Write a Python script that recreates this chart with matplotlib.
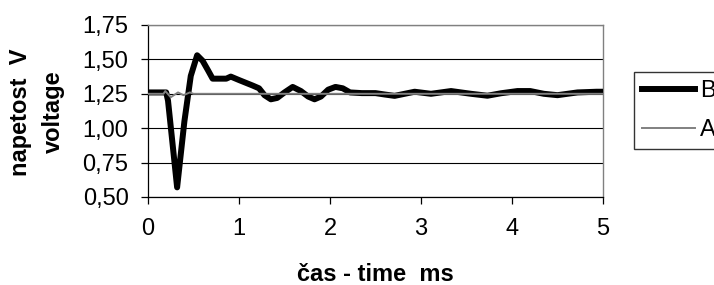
import matplotlib
matplotlib.use("Agg")
import matplotlib.pyplot as plt
from matplotlib.ticker import FuncFormatter

# Data
t_B = [0, 0.20, 0.22, 0.32, 0.40, 0.47, 0.54, 0.60, 0.66, 0.71, 0.80, 0.86, 0.91,
       1.00, 1.15, 1.22, 1.28, 1.35, 1.42, 1.50, 1.59, 1.68, 1.76, 1.83, 1.90,
       1.98, 2.06, 2.14, 2.22, 2.35, 2.50, 2.60, 2.71, 2.82, 2.93, 3.11, 3.33,
       3.55, 3.73, 3.88, 4.06, 4.20, 4.35, 4.50, 4.72, 4.93, 5.0]
v_B = [1.26, 1.26, 1.20, 0.57, 1.05, 1.38, 1.53, 1.49, 1.42, 1.36, 1.36, 1.36, 1.375,
       1.35, 1.31, 1.29, 1.24, 1.21, 1.22, 1.26, 1.30, 1.27, 1.23, 1.21, 1.23,
       1.28, 1.30, 1.29, 1.26, 1.255, 1.255, 1.245, 1.235, 1.25, 1.265, 1.25, 1.27,
       1.25, 1.236, 1.254, 1.27, 1.27, 1.25, 1.24, 1.26, 1.265, 1.265]

t_A = [0, 0.17, 0.19, 0.25, 0.33, 0.39, 0.46, 0.50, 5.0]
v_A = [1.25, 1.25, 1.27, 1.225, 1.26, 1.24, 1.26, 1.25, 1.25]

y_ticks = [0.50, 0.75, 1.00, 1.25, 1.50, 1.75]
x_ticks = [0, 1, 2, 3, 4, 5]

FS = 17
plt.rcParams['font.family'] = ['Liberation Sans', 'DejaVu Sans']

fig = plt.figure(figsize=(7.14, 2.85), dpi=100)
ax = fig.add_axes([148/714, 1 - 197/285, (603-148)/714, (197-25)/285])

ax.set_xlim(0, 5)
ax.set_ylim(0.5, 1.75)
ax.set_yticks(y_ticks)
ax.set_xticks(x_ticks)
ax.yaxis.set_major_formatter(FuncFormatter(lambda v, p: f"{v:.2f}".replace('.', ',')))
ax.grid(axis='y', color='black', linewidth=0.8)
ax.set_axisbelow(True)

lB, = ax.plot(t_B, v_B, color='black', linewidth=4.3, solid_joinstyle='round', label='B', zorder=3)
lA, = ax.plot(t_A, v_A, color='#808080', linewidth=1.4, label='A', zorder=4)

for s in ['top', 'right']:
    ax.spines[s].set_color('#808080')
    ax.spines[s].set_linewidth(1.0)
for s in ['left', 'bottom']:
    ax.spines[s].set_color('black')
    ax.spines[s].set_linewidth(0.9)

ax.tick_params(axis='both', direction='out', length=5, width=0.9, labelsize=FS, color='black')
ax.tick_params(axis='x', pad=10)
ax.tick_params(axis='y', pad=9)

ax.set_xlabel('čas - time  ms', fontsize=FS, fontweight='bold')
ax.xaxis.set_label_coords(0.5, -0.385)

fig.text(37/714, 1 - 112/285, 'napetost  V\nvoltage', rotation=90, ha='center', va='center',
         multialignment='center', fontsize=FS, fontweight='bold', linespacing=1.5)

leg = fig.legend(handles=[lB, lA], loc='upper left', bbox_to_anchor=(634/714, 1 - 72/285),
                 fontsize=FS, frameon=True, fancybox=False, edgecolor='black',
                 handlelength=2.25, handletextpad=0.2, labelspacing=0.7, borderpad=0.35,
                 borderaxespad=0)
leg.get_frame().set_linewidth(1.0)

fig.savefig('out.png', dpi=100)
